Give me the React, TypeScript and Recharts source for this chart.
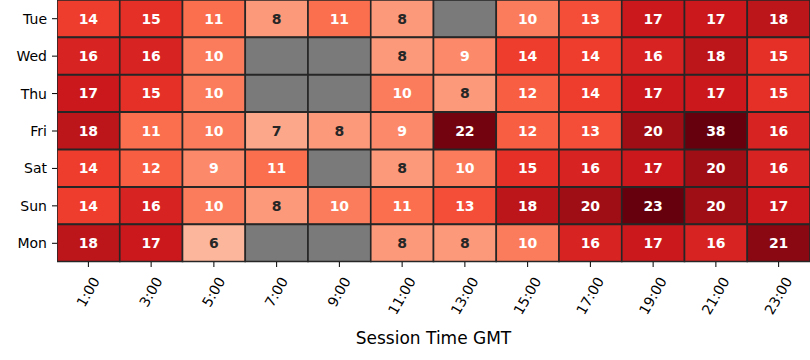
import { BarChart, Bar, XAxis, YAxis, Cell, LabelList, Label } from 'recharts'

const hours = ['1:00', '3:00', '5:00', '7:00', '9:00', '11:00', '13:00', '15:00', '17:00', '19:00', '21:00', '23:00']
const days = ['Tue', 'Wed', 'Thu', 'Fri', 'Sat', 'Sun', 'Mon']

// sessions per slot, null = no data (grey)
const tue = [14, 15, 11, 8, 11, 8, null, 10, 13, 17, 17, 18]
const wed = [16, 16, 10, null, null, 8, 9, 14, 14, 16, 18, 15]
const thu = [17, 15, 10, null, null, 10, 8, 12, 14, 17, 17, 15]
const fri = [18, 11, 10, 7, 8, 9, 22, 12, 13, 20, 38, 16]
const sat = [14, 12, 9, 11, null, 8, 10, 15, 16, 17, 20, 16]
const sun = [14, 16, 10, 8, 10, 11, 13, 18, 20, 23, 20, 17]
const mon = [18, 17, 6, null, null, 8, 8, 10, 16, 17, 16, 21]

const counts = [tue, wed, thu, fri, sat, sun, mon]

// colour range: 0 .. ~98th percentile (robust), so the 38 outlier is clipped
const VMIN = 0
const VMAX = 22.56
const FONT = '"DejaVu Sans", sans-serif'

// matplotlib "Reds"
const reds = ['#fff5f0', '#fee0d2', '#fcbba1', '#fc9272', '#fb6a4a', '#ef3b2c', '#cb181d', '#a50f15', '#67000d']

function hexToRgb(h: string) {
  return [1, 3, 5].map((i) => parseInt(h.slice(i, i + 2), 16))
}

function redsRgb(v: number) {
  let t = (v - VMIN) / (VMAX - VMIN)
  t = Math.max(0, Math.min(1, t))
  const pos = t * (reds.length - 1)
  const i = Math.min(Math.floor(pos), reds.length - 2)
  const f = pos - i
  const a = hexToRgb(reds[i])
  const b = hexToRgb(reds[i + 1])
  return a.map((c, k) => Math.round(c + (b[k] - c) * f))
}

function cellColor(v: number | null) {
  if (v == null) return '#7a7a7a'
  const [r, g, b] = redsRgb(v)
  return `rgb(${r},${g},${b})`
}

function textColor(v: number) {
  const lin = redsRgb(v).map((c) => {
    const s = c / 255
    return s <= 0.03928 ? s / 12.92 : Math.pow((s + 0.055) / 1.055, 2.4)
  })
  const lum = 0.2126 * lin[0] + 0.7152 * lin[1] + 0.0722 * lin[2]
  return lum > 0.408 ? '#262626' : '#ffffff'
}

const rows = days.map((day, r) => {
  const row: Record<string, any> = { day }
  counts[r].forEach((v, i) => {
    row['c' + i] = 1
    row['v' + i] = v
  })
  return row
})

const CellLabel = (props: any) => {
  const { x, y, width, height, value } = props
  if (value == null) return null
  return (
    <text
      x={x + width / 2}
      y={y + height / 2}
      dy="0.36em"
      textAnchor="middle"
      fontFamily={FONT}
      fontWeight="bold"
      fontSize={14}
      fill={textColor(value)}
    >
      {value}
    </text>
  )
}

const HourTick = (props: any) => {
  const { x, y, payload } = props
  const label = hours[Math.floor(payload.value)]
  let w = 0
  for (const ch of label) w += ch === ':' ? 0.337 * 14 : 0.636 * 14
  const cy = y + 3 + (w * 0.866 + 9) / 2
  return (
    <g transform={`translate(${x},${cy})`}>
      <text transform="rotate(-60)" textAnchor="middle" dy="0.32em" fontFamily={FONT} fontSize={14} fill="#000">
        {label}
      </text>
    </g>
  )
}

export default function App() {
  return (
    <div style={{ position: 'absolute', left: 0, top: 0, width: 810, height: 360, background: '#fff' }}>
      <BarChart
        width={810}
        height={360}
        data={rows}
        layout="vertical"
        barCategoryGap={0}
        barGap={0}
        margin={{ top: 0, right: 0, left: 0, bottom: 0 }}
      >
        <XAxis
          type="number"
          domain={[0, 12]}
          ticks={hours.map((_, i) => i + 0.5)}
          allowDataOverflow
          height={98}
          axisLine={false}
          tickLine={{ stroke: '#000' }}
          tickSize={5}
          tickMargin={4}
          tick={<HourTick />}
          interval={0}
        >
          <Label value="Session Time GMT" position="insideBottom" offset={16} style={{ fontSize: 17, fill: '#000', fontFamily: FONT }} />
        </XAxis>
        <YAxis
          type="category"
          dataKey="day"
          width={57}
          axisLine={false}
          tickLine={{ stroke: '#000' }}
          tickSize={5}
          tickMargin={5}
          interval={0}
          tick={{ fill: '#000', fontSize: 14, fontFamily: FONT }}
        />
        {hours.map((_, i) => (
          <Bar key={i} dataKey={'c' + i} stackId="a" isAnimationActive={false} stroke="#262626" strokeWidth={1.6}>
            {rows.map((row, r) => (
              <Cell key={r} fill={cellColor(row['v' + i])} />
            ))}
            <LabelList dataKey={'v' + i} content={<CellLabel />} />
          </Bar>
        ))}
      </BarChart>
    </div>
  )
}
